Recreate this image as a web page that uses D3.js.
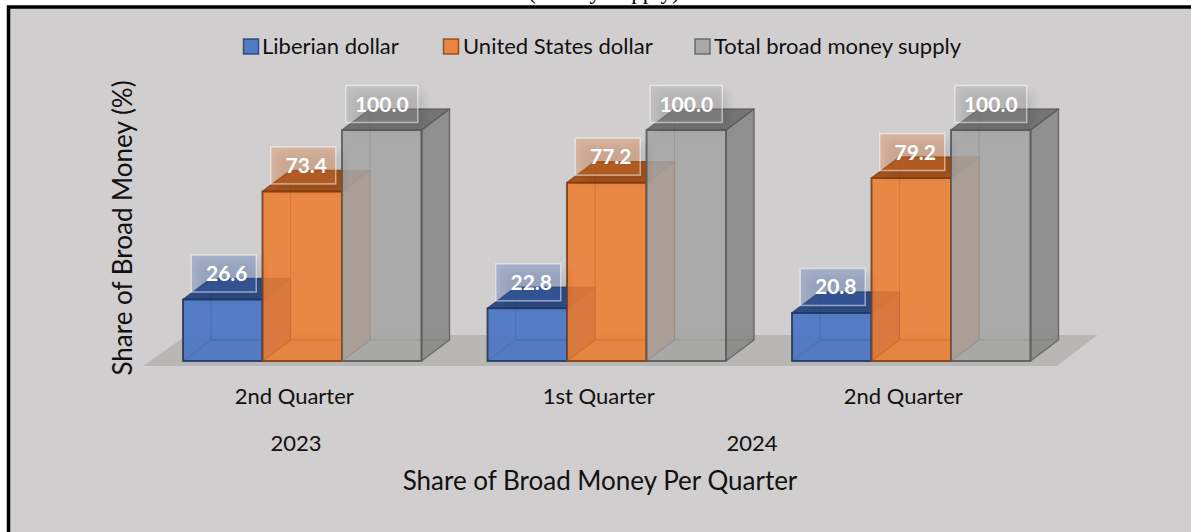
<!DOCTYPE html>
<html><head><meta charset="utf-8">
<script src="https://cdn.jsdelivr.net/npm/d3@7/dist/d3.min.js"></script>
<style>html,body{margin:0;padding:0;background:#fff;overflow:hidden}svg{display:block}text{font-family:Lato,"Noto Sans",sans-serif}</style>
</head><body><svg id="c" width="1191" height="532"></svg>
<script>
const quarters = ["2nd Quarter","1st Quarter","2nd Quarter"];
const years = ["2023","2024"];
const seriesNames = ["Liberian dollar","United States dollar","Total broad money supply"];
const liberianDollar = [26.6,22.8,20.8];
const unitedStatesDollar = [73.4,77.2,79.2];
const totalBroadMoney = [100.0,100.0,100.0];
const seriesValues = [liberianDollar,unitedStatesDollar,totalBroadMoney];
const frontColors = ["#4472c4","#ed7d31","#a5a5a5"];
const edgeColors = ["#203864","#843c0c","#595959"];
const sideColors = ["#2f5597","#c55a11","#7b7b7b"];
const topColors = ["#203f7a","#97470f","#666666"];

const svg = d3.select("#c");
const W=1191,H=532;
const defs = svg.append("defs");
defs.append("filter").attr("id","blur").attr("x","-40%").attr("y","-40%").attr("width","180%").attr("height","180%")
  .append("feGaussianBlur").attr("stdDeviation",5);
const clip = defs.append("clipPath").attr("id","topclip");
clip.append("rect").attr("x",0).attr("y",0).attr("width",W).attr("height",6);

svg.append("text").attr("clip-path","url(#topclip)").attr("x",604).attr("y",-1)
  .attr("text-anchor","middle").style("font-family","'Liberation Serif',serif").style("font-size","23px")
  .text("(Money Supply)");
svg.append("rect").attr("x",8.5).attr("y",7).attr("width",W).attr("height",H).attr("fill","#d0cecf").attr("stroke","#000").attr("stroke-width",3.5);

const dx=28, dy=-21;
const x0 = d3.scaleBand().domain(d3.range(quarters.length)).range([150,1063.5]).paddingInner(0).paddingOuter(0);
const x1 = d3.scaleBand().domain(d3.range(seriesNames.length)).range([33,271.5]);
const y = d3.scaleLinear().domain([0,100]).range([361,130]);

// floor
const floorPts=[[143,366],[1057,366],[1097.5,335],[187,335]];
svg.append("polygon").attr("points",floorPts.join(" ")).attr("fill","#b8b7b5");

const pts=a=>a.map(p=>p.join(",")).join(" ");
const plot = svg.append("g");
const labels=[];
quarters.forEach((q,gi)=>{
  seriesValues.forEach((vals,si)=>{
    const v=vals[gi];
    const xl=x0(gi)+x1(si), xr=xl+x1.bandwidth(), yt=y(v), yb=y(0);
    const g=plot.append("g").attr("stroke",edgeColors[si]);
    const face=(p,fill,op,so,sw)=>g.append("polygon").attr("points",pts(p)).attr("fill",fill).attr("fill-opacity",op)
      .attr("stroke-opacity",so==null?.25:so).attr("stroke-width",sw||1).attr("stroke-linejoin","round");
    // back, floor, left
    face([[xl+dx,yt+dy],[xr+dx,yt+dy],[xr+dx,yb+dy],[xl+dx,yb+dy]],frontColors[si],.72);
    face([[xl,yb],[xr,yb],[xr+dx,yb+dy],[xl+dx,yb+dy]],frontColors[si],.72);
    face([[xl,yt],[xl+dx,yt+dy],[xl+dx,yb+dy],[xl,yb]],frontColors[si],.72);
    // right, top, front
    face([[xr,yt],[xr+dx,yt+dy],[xr+dx,yb+dy],[xr,yb]],sideColors[si],.6,.7,1.5);
    face([[xl,yt],[xr,yt],[xr+dx,yt+dy],[xl+dx,yt+dy]],topColors[si],.8,.7,1.5);
    face([[xl,yt],[xr,yt],[xr,yb],[xl,yb]],frontColors[si],.55,.85,2);
    labels.push({v,si,cx:(xl+xr)/2,yt,wide:v>=100});
  });
});

// data labels
const lab=svg.append("g").selectAll("g").data(labels).join("g");
lab.append("rect").attr("x",d=>d.cx+(d.wide?-36:-31.5)+6).attr("y",d=>d.yt-44+6).attr("width",d=>d.wide?72:65).attr("height",37)
  .attr("fill","#000").attr("opacity",.1).attr("filter","url(#blur)");
lab.append("rect").attr("x",d=>d.cx+(d.wide?-36:-31.5)).attr("y",d=>d.yt-44.5).attr("width",d=>d.wide?72:65).attr("height",37)
  .attr("fill",d=>frontColors[d.si]).attr("fill-opacity",.3).attr("stroke","#fff").attr("stroke-opacity",.5).attr("stroke-width",1.5);
lab.append("text").attr("x",d=>d.cx+(d.wide?0:4)).attr("y",d=>d.yt-18.5).attr("text-anchor","middle")
  .attr("fill","#fff").style("font-size","21px").style("font-weight","700").text(d=>d.v.toFixed(1));

// category axis
const axis=d3.axisBottom(d3.scaleBand().domain(d3.range(quarters.length)).range([142,1055.5]))
  .tickSize(0).tickPadding(0).tickFormat(i=>quarters[i]);
const ag=svg.append("g").attr("transform","translate(0,388)").call(axis);
ag.select(".domain").remove();
ag.selectAll("text").style("font-size","22px").attr("fill","#111").style("font-family","Lato,sans-serif");

const yearX=[296,752];
svg.selectAll("text.yr").data(years).join("text").attr("class","yr").attr("x",(d,i)=>yearX[i]).attr("y",451)
  .attr("text-anchor","middle").attr("fill","#111").style("font-size","22px").text(d=>d);

svg.append("text").attr("x",600).attr("y",490).attr("text-anchor","middle").attr("fill","#111")
  .style("font-size","26px").text("Share of Broad Money Per Quarter");
svg.append("text").attr("transform","translate(132,228) rotate(-90)").attr("text-anchor","middle").attr("fill","#111")
  .style("font-size","26px").text("Share of Broad Money (%)");

// legend
const legX=[243.5,443.5,695], legTx=[262,463,714];
const leg=svg.selectAll("g.leg").data(seriesNames).join("g").attr("class","leg");
leg.append("rect").attr("x",(d,i)=>legX[i]).attr("y",39).attr("width",15).attr("height",15)
  .attr("fill",(d,i)=>frontColors[i]).attr("fill-opacity",.9).attr("stroke",(d,i)=>edgeColors[i]).attr("stroke-opacity",.8).attr("stroke-width",1.5);
leg.append("text").attr("x",(d,i)=>legTx[i]).attr("y",54).attr("fill","#111").style("font-size","22px").text(d=>d);
</script></body></html>
